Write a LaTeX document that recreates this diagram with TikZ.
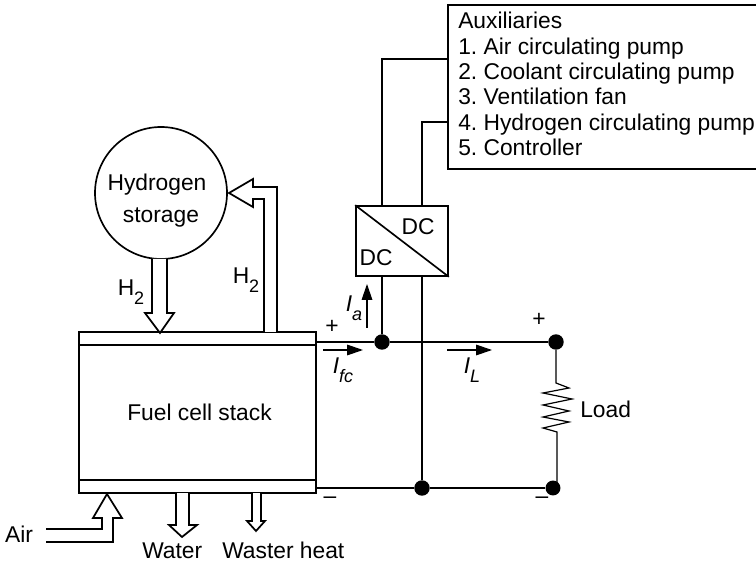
\documentclass[tikz,border=0pt]{standalone}
\usepackage{fontspec}
\setmainfont{Liberation Sans}
\usepackage{tikz}
\usetikzlibrary{arrows.meta,positioning,calc}
\newcommand{\lowsub}[1]{\raisebox{-0.75ex}{\fontsize{13.5}{13.5}\selectfont #1}}
\frenchspacing

\begin{document}
\begin{tikzpicture}[
  x=0.75pt,y=-0.75pt,
  every node/.style={font=\fontsize{17.1}{19}\selectfont,inner sep=0pt},
  box/.style={draw=black,line width=1.25pt,fill=white},
  wire/.style={draw=black,line width=1.25pt},
  pipe/.style={draw=black,line width=1.3pt,fill=white,line join=miter},
  curr/.style={-{Triangle[length=12pt,width=8pt]},line width=0.9pt,draw=black},
  dot/.style={circle,fill=black,minimum size=11.6pt}
]
\useasboundingbox (0,0) rectangle (756,566);
\node[box,minimum width=177.75pt,minimum height=120.75pt] (stack) at (197.5,412.5) {\hspace*{3pt}Fuel cell stack};
\draw[wire] (79,345)--(316,345); \draw[wire] (79,480)--(316,480);
\node[box,circle,minimum size=99pt,align=center] (storage) at (161,193) {};
\node (hyd) at (157,185) {Hydrogen};
\node (sto) at (161,217) {storage};
\node[box,minimum width=232.5pt,minimum height=123pt] (aux) at (603,87) {};
\node[anchor=north west,align=left] (auxtext) at (458,12) {Auxiliaries\\1. Air circulating pump\\2. Coolant circulating pump\\3. Ventilation fan\\4. Hydrogen circulating pump\\5. Controller};
\node[box,minimum width=69pt,minimum height=52.5pt] (conv) at (402,241) {};
\draw[wire] (conv.north west)--(conv.south east);
\node (dchi) at (418,227) {DC};
\node (dclo) at (376,258) {DC};
\node[dot] (jfc) at (382,342) {};
\node[dot] (jtop) at (556,342) {};
\node[dot] (jbot) at (422,488) {};
\node[dot,minimum size=11.2pt] (jneg) at (553,488) {};
\coordinate (auxa) at (448,59); \coordinate (auxb) at (448,122);
\draw[wire] (auxa)-|(conv.north -| jfc); \draw[wire] (auxb)-|(conv.north -| jbot);
\draw[wire] (conv.south -| jfc)--(jfc); \draw[wire] (conv.south -| jbot)--(jbot);
\draw[wire] (stack.east |- jfc)--(jfc); \draw[wire] (jfc)--(jtop); \draw[wire] (stack.east |- jbot)--(jbot); \draw[wire] (jbot)--(jneg);
\draw[wire,line width=0.9pt] (jtop)--(556,383)--(569,388)--(543,393)--(572,399)--(543,405)--(569,411)--(543,417)--(569,422)--(543,428)--(557,432)--(557,488);
\draw[pipe] (152,259)--(152,313)--(145,313)--(160,333)--(174,313)--(167,313)--(167,259);
\draw[pipe] (264,332)--(264,199)--(253,199)--(253,207)--(229,193)--(253,179)--(253,187)--(277,187)--(277,332);
\draw[pipe] (46,529)--(102,529)--(102,518)--(93,518)--(107,494)--(122,518)--(113,518)--(113,542)--(46,542);
\draw[pipe] (176,493)--(176,525)--(169,525)--(182,537)--(197,525)--(189,525)--(189,493);
\draw[pipe] (252,493)--(252,521)--(247,521)--(256,531)--(265,521)--(261,521)--(261,493);
\coordinate (ifca) at (323,350); \coordinate (ifcb) at (363,350);
\coordinate (iaa) at (367,328); \coordinate (iab) at (367,284);
\coordinate (ila) at (447,350); \coordinate (ilb) at (492,350);
\draw[curr] (ifca)--(ifcb); \draw[curr] (iaa)--(iab); \draw[curr] (ila)--(ilb);
\node (hdown) at (131,292) {H\lowsub{2}};
\node (hup) at (246,280) {H\lowsub{2}};
\node (ia) at (354,308) {\textit{I}\lowsub{\textit{a}}};
\node (ifc) at (343,370) {\textit{I}\lowsub{\textit{fc}}};
\node (il) at (472,370) {\textit{I}\lowsub{\textit{L}}};
\node (plusa) at (332,327) {+};
\node (plusb) at (539,320) {+};
\node (minusa) at (330,500) {–};
\node (minusb) at (542,500) {–};
\node[anchor=west] (load) at (580,409) {Load};
\node (air) at (19,534) {Air};
\node[anchor=base west] (water) at (142,558) {Water};
\node[anchor=base west] (heat) at (222,558) {Waster heat};
\end{tikzpicture}
\end{document}
